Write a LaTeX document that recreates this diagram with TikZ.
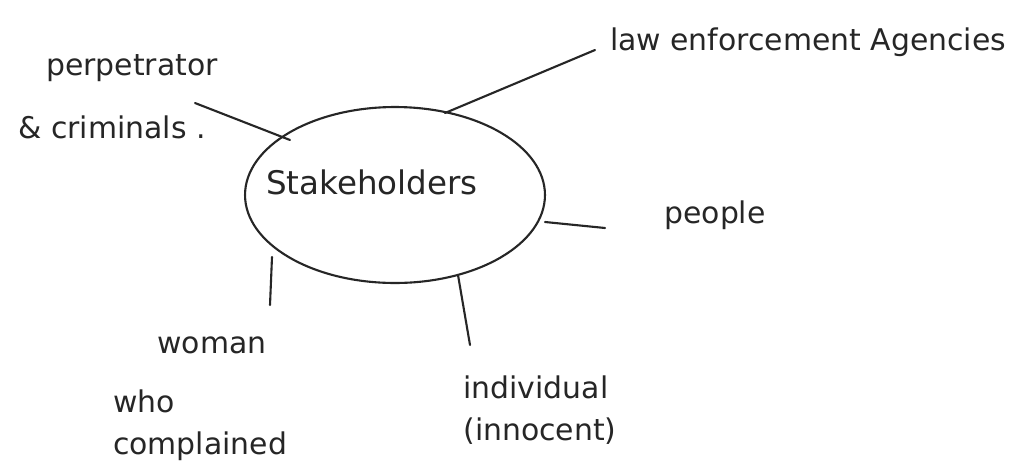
\documentclass[tikz,border=0pt]{standalone}
\usepackage{fontspec}
\setmainfont{DejaVu Sans}
\usetikzlibrary{shapes.geometric}
\begin{document}
\begin{tikzpicture}[x=0.02cm,y=-0.02cm,
  lbl/.style={font=\fontsize{17}{20}\selectfont, text=black!85, align=left, inner sep=0pt},
  spoke/.style={draw=black!85, line width=1.2pt, line cap=round}]
\useasboundingbox[fill=white] (0,0) rectangle (1030,471);
\node[draw=black!85, line width=1.2pt, ellipse, minimum width=6cm, minimum height=3.52cm, inner sep=0pt] (hub) at (395,195) {};
\node[lbl, font=\fontsize{18.5}{22}\selectfont] (s) at (372,182) {Stakeholders};
\node[lbl] (p1) at (132,68) {perpetrator};
\node[lbl] (p2) at (112,127) {\& criminals .};
\node[lbl] (law) at (808,42) {law enforcement Agencies};
\node[lbl] (ppl) at (715,215) {people};
\node[lbl] (wom) at (212,345) {woman};
\node[lbl, align=left] (who) at (200,425) {who\\[4pt]complained};
\node[lbl, align=left] (ind) at (540,410) {individual\\[4pt](innocent)};
\coordinate (a1) at (195,103); \coordinate (a2) at (290,140);
\coordinate (b1) at (445,113); \coordinate (b2) at (595,50);
\coordinate (c1) at (545,222); \coordinate (c2) at (605,228);
\coordinate (d1) at (272,257); \coordinate (d2) at (270,305);
\coordinate (e1) at (458,275); \coordinate (e2) at (470,345);
\draw[spoke] (a1) -- (a2);
\draw[spoke] (b1) -- (b2);
\draw[spoke] (c1) -- (c2);
\draw[spoke] (d1) -- (d2);
\draw[spoke] (e1) -- (e2);
\end{tikzpicture}
\end{document}
